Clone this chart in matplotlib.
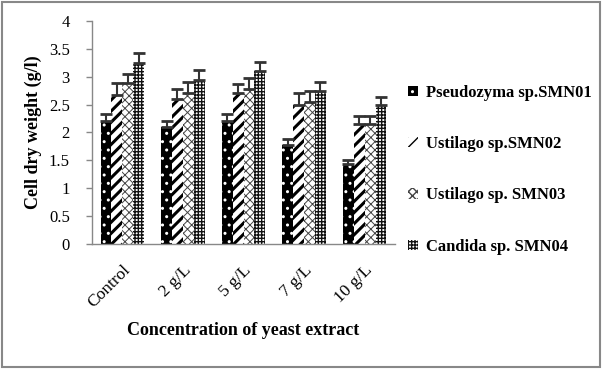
import numpy as np
import matplotlib
matplotlib.use("Agg")
import matplotlib.pyplot as plt
from matplotlib.patches import Rectangle

categories = ["Control", "2 g/L", "5 g/L", "7 g/L", "10 g/L"]
strains = ["Pseudozyma sp.SMN01", "Ustilago sp.SMN02", "Ustilago sp. SMN03", "Candida sp. SMN04"]

smn01 = [2.20, 2.10, 2.20, 1.77, 1.43]
smn02 = [2.68, 2.60, 2.70, 2.50, 2.15]
smn03 = [2.88, 2.70, 2.78, 2.55, 2.15]
smn04 = [3.25, 2.95, 3.10, 2.75, 2.50]

err01 = [0.13, 0.10, 0.13, 0.11, 0.07]
err02 = [0.20, 0.18, 0.17, 0.20, 0.15]
err03 = [0.17, 0.20, 0.20, 0.20, 0.15]
err04 = [0.18, 0.17, 0.17, 0.15, 0.13]

values = [smn01, smn02, smn03, smn04]
errors = [err01, err02, err03, err04]

# face, hatch colour, hatch, hatch linewidth
styles = [
    ("black", "white", "..", 1.0),
    ("white", "black", "///", 2.2),
    ("white", "#444444", "xxxx", 0.7),
    ("white", "#111111", "+++++", 1.0),
]

plt.rcParams["font.family"] = ["Liberation Serif", "DejaVu Serif"]

fig = plt.figure(figsize=(6.02, 3.69), dpi=100)
ax = fig.add_axes([0.153, 0.339, 0.503, 0.604])

x = np.arange(len(categories))
w = 0.18
for i, (vals, errs) in enumerate(zip(values, errors)):
    face, hc, hatch, hlw = styles[i]
    with plt.rc_context({"hatch.linewidth": hlw}):
        ax.bar(x + (i - 1.5) * w, vals, w, color=face, edgecolor=hc, hatch=hatch,
               linewidth=0, label=strains[i])
    eb = ax.errorbar(x + (i - 1.5) * w, vals, yerr=[np.zeros(len(errs)), errs],
                     fmt="none", ecolor="#333333", elinewidth=1.5, capsize=4, capthick=2)
    for cap in eb[1]:
        cap.set_color("black")

ax.set_xlim(-0.5, 4.5)
ax.set_ylim(0, 4)
ax.set_yticks(np.arange(0, 4.01, 0.5))
ax.set_yticklabels(["0", "0.5", "1", "1.5", "2", "2.5", "3", "3.5", "4"], fontsize=12)
ax.set_xticks(x)
ax.set_xticklabels(categories, rotation=45, ha="right", rotation_mode="anchor",
                   fontsize=12.5)
ax.tick_params(axis="x", length=0, pad=13)
ax.tick_params(axis="y", length=4, color="#888888", width=1, pad=12)
for s in ["top", "right"]:
    ax.spines[s].set_visible(False)
for s in ["left", "bottom"]:
    ax.spines[s].set_color("#888888")
    ax.spines[s].set_linewidth(1)

ax.set_ylabel("Cell dry weight (g/l)", fontsize=13, fontweight="bold", labelpad=5)
ax.set_xlabel("Concentration of yeast extract", fontsize=13, fontweight="bold", labelpad=8)

fig.legend(loc="center left", bbox_to_anchor=(0.678, 0.54), frameon=False,
           prop={"size": 12, "weight": "bold"}, handlelength=0.6, handleheight=0.6,
           handletextpad=0.5, labelspacing=2.12, borderaxespad=0, borderpad=0)

fig.patches.append(Rectangle((0.004, 0.006), 0.992, 0.988, transform=fig.transFigure,
                             fill=False, edgecolor="#888888", linewidth=1.5))

fig.savefig("out.png", dpi=100)
